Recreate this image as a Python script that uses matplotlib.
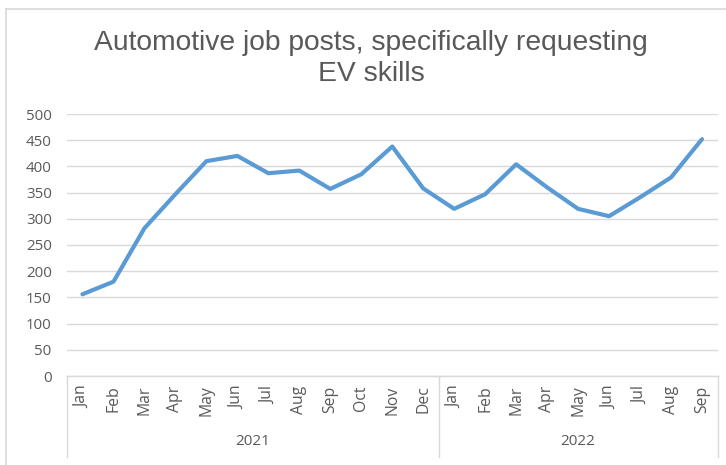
import matplotlib
matplotlib.use("Agg")
import matplotlib.pyplot as plt
from matplotlib.lines import Line2D
import matplotlib.transforms as mtransforms

months = ["Jan", "Feb", "Mar", "Apr", "May", "Jun", "Jul", "Aug", "Sep", "Oct", "Nov", "Dec",
          "Jan", "Feb", "Mar", "Apr", "May", "Jun", "Jul", "Aug", "Sep"]
years = ["2021", "2022"]
year_counts = [12, 9]
values = [156, 180, 282, 347, 410, 420, 387, 392, 357, 385, 438, 358,
          319, 347, 404, 360, 319, 305, 341, 379, 452]
yticks = list(range(0, 501, 50))

GRID = "#D9D9D9"
TXT = "#595959"
BLUE = "#5B9BD5"

W, H = 726, 465
fig = plt.figure(figsize=(W / 100, H / 100), dpi=100)
ax = fig.add_axes([67 / W, 1 - 376 / H, (717.5 - 67) / W, (376 - 114) / H])

x = list(range(len(values)))
ax.plot(x, values, color=BLUE, lw=3.0, solid_joinstyle="round", solid_capstyle="round", zorder=3)

ax.set_xlim(-0.5, len(values) - 0.5)
ax.set_ylim(0, 500)
ax.set_yticks(yticks)
ax.set_yticklabels([str(v) for v in yticks], fontsize=10.8, color=TXT, fontfamily="Open Sans")
ax.set_xticks(x)
ax.set_xticklabels(months, rotation=90, fontsize=11.3, color=TXT, fontfamily="Open Sans", va="top")
ax.tick_params(axis="y", length=0, pad=11)
ax.tick_params(axis="x", length=0, pad=7)
ax.grid(axis="y", color=GRID, lw=1.0, zorder=0)
for s in ax.spines.values():
    s.set_visible(False)

trans = mtransforms.blended_transform_factory(ax.transData, ax.transAxes)
ybot = -(457 - 376) / 262
ax.plot([-0.5, len(values) - 0.5], [0, 0], transform=trans, color=GRID, lw=1.0, clip_on=False)
bounds = [-0.5]
for c in year_counts:
    bounds.append(bounds[-1] + c)
for b in bounds:
    ax.plot([b, b], [0, ybot], transform=trans, color=GRID, lw=1.0, clip_on=False)
for i, yl in enumerate(years):
    cx = (bounds[i] + bounds[i + 1]) / 2
    ax.text(cx, -(441 - 376) / 262, yl, transform=trans, ha="center", va="center",
            fontsize=11, color=TXT, fontfamily="Open Sans")

# outer chart border
fig.add_artist(Line2D([5.5 / W, 5.5 / W], [0, 1 - 9 / H], color=GRID, lw=1.2))
fig.add_artist(Line2D([5.5 / W, 1], [1 - 9 / H, 1 - 9 / H], color=GRID, lw=1.2))

title_lines = ["Automotive job posts, specifically requesting", "EV skills"]
for line, base in zip(title_lines, [50, 81]):
    fig.text(371 / W, 1 - base / H, line, ha="center", va="baseline", fontsize=20.3,
             color=TXT, fontfamily="Liberation Sans")

fig.savefig("out.png", dpi=100)
